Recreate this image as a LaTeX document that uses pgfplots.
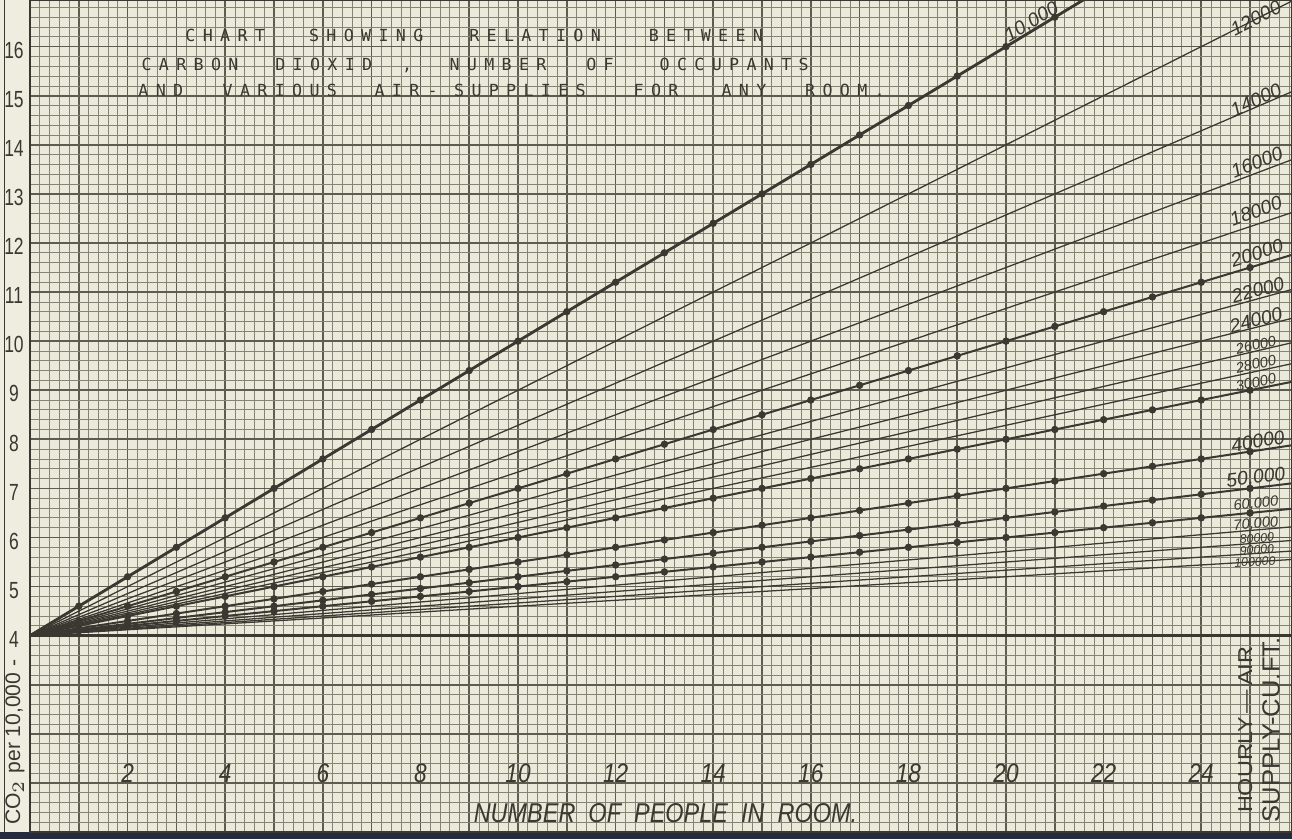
\documentclass[border=0pt]{standalone}
\usepackage{fontspec}
\setmainfont{Liberation Sans}
\newfontfamily\titlefont[LetterSpace=44]{DejaVu Sans Mono}
\usepackage{pgfplots}
\pgfplotsset{compat=1.18}
\definecolor{paper}{RGB}{234,233,218}
\definecolor{strip}{RGB}{238,237,224}
\definecolor{gridmaj}{RGB}{92,92,80}
\definecolor{gridmin}{RGB}{132,132,116}
\definecolor{ink}{RGB}{58,56,48}
\definecolor{navy}{RGB}{38,42,62}
\tikzset{
  thinl/.style={draw=ink, line width=0.38pt, mark=none},
  dotl/.style={draw=ink, line width=0.6pt, mark=*, mark size=0.95pt, mark options={fill=ink, draw=ink, line width=0.3pt}, mark phase=2, mark repeat=1},
  lab/.style={font=\fontsize{5.8pt}{6pt}\selectfont\itshape, inner sep=0pt, text=ink, anchor=center},
  labs/.style={font=\fontsize{4.4pt}{5pt}\selectfont\itshape, inner sep=0pt, text=ink, anchor=center},
  labt/.style={font=\fontsize{3.7pt}{4pt}\selectfont\itshape, inner sep=0pt, text=ink, anchor=center},
  ttl/.style={font=\titlefont\fontsize{5pt}{6pt}\selectfont, inner sep=0pt, text=ink, anchor=base},
  xtl/.style={font=\fontsize{8pt}{9pt}\selectfont\itshape, inner sep=0pt, text=ink, anchor=base},
  ytl/.style={font=\fontsize{7pt}{8pt}\selectfont, inner sep=0pt, text=ink, anchor=center, xshift=-4.8pt, yshift=-1.1pt},
}
\begin{document}
\begin{tikzpicture}
\useasboundingbox (0,0) rectangle (387.6pt,251.7pt);
\fill[navy] (0,0) rectangle (387.6pt,2.1pt);
\fill[strip] (0,2.1pt) rectangle (9pt,251.7pt);
\draw[ink, line width=0.35pt] (1.3pt,2.1pt) -- (1.3pt,251.7pt);
\begin{axis}[
  at={(9pt,2.1pt)}, anchor=south west,
  scale only axis, width=378.6pt, height=249.6pt,
  xmin=0, xmax=25.86, ymin=0, ymax=16.95,
  xtick={0,...,25}, ytick={0,...,16},
  minor xtick={0,0.2,...,25.85}, minor ytick={0,0.2,...,16.9},
  xticklabels={}, yticklabels={},
  major tick length=0pt, minor tick length=0pt,
  grid=both,
  major grid style={draw=gridmaj, line width=0.5pt},
  minor grid style={draw=gridmin, line width=0.22pt},
  axis line style={draw=ink, line width=0.7pt},
  axis background/.style={fill=paper},
  clip mode=individual,
]
% baseline CO2 = 4
\addplot[draw=ink, line width=0.8pt, mark=none] coordinates {(0,4) (26,4)};
% thin lines (hourly air supply, cu. ft.)
\addplot[thinl] coordinates {(0,4) (26,17.0)};       % 12000
\addplot[thinl] coordinates {(0,4) (26,15.142857)};  % 14000
\addplot[thinl] coordinates {(0,4) (26,13.75)};      % 16000
\addplot[thinl] coordinates {(0,4) (26,12.666667)};  % 18000
\addplot[thinl] coordinates {(0,4) (26,11.090909)};  % 22000
\addplot[thinl] coordinates {(0,4) (26,10.5)};       % 24000
\addplot[thinl] coordinates {(0,4) (26,10.0)};       % 26000
\addplot[thinl] coordinates {(0,4) (26,9.571429)};   % 28000
\addplot[thinl] coordinates {(0,4) (26,6.228571)};   % 70000
\addplot[thinl] coordinates {(0,4) (26,5.95)};       % 80000
\addplot[thinl] coordinates {(0,4) (26,5.733333)};   % 90000
\addplot[thinl] coordinates {(0,4) (26,5.56)};       % 100000
% dotted (marked) lines
\addplot[dotl, line width=0.85pt] coordinates {(0,4) (1,4.6) (2,5.2) (3,5.8) (4,6.4) (5,7.0) (6,7.6) (7,8.2) (8,8.8) (9,9.4) (10,10.0) (11,10.6) (12,11.2) (13,11.8) (14,12.4) (15,13.0) (16,13.6) (17,14.2) (18,14.8) (19,15.4) (20,16.0) (21,16.6) (22,17.2) (23,17.8)}; % 10000
\addplot[dotl] coordinates {(0,4) (1,4.3) (2,4.6) (3,4.9) (4,5.2) (5,5.5) (6,5.8) (7,6.1) (8,6.4) (9,6.7) (10,7.0) (11,7.3) (12,7.6) (13,7.9) (14,8.2) (15,8.5) (16,8.8) (17,9.1) (18,9.4) (19,9.7) (20,10.0) (21,10.3) (22,10.6) (23,10.9) (24,11.2) (25,11.5) (26,11.8)}; % 20000
\addplot[dotl] coordinates {(0,4) (1,4.2) (2,4.4) (3,4.6) (4,4.8) (5,5.0) (6,5.2) (7,5.4) (8,5.6) (9,5.8) (10,6.0) (11,6.2) (12,6.4) (13,6.6) (14,6.8) (15,7.0) (16,7.2) (17,7.4) (18,7.6) (19,7.8) (20,8.0) (21,8.2) (22,8.4) (23,8.6) (24,8.8) (25,9.0) (26,9.2)}; % 30000
\addplot[dotl] coordinates {(0,4) (1,4.15) (2,4.3) (3,4.45) (4,4.6) (5,4.75) (6,4.9) (7,5.05) (8,5.2) (9,5.35) (10,5.5) (11,5.65) (12,5.8) (13,5.95) (14,6.1) (15,6.25) (16,6.4) (17,6.55) (18,6.7) (19,6.85) (20,7.0) (21,7.15) (22,7.3) (23,7.45) (24,7.6) (25,7.75) (26,7.9)}; % 40000
\addplot[dotl] coordinates {(0,4) (1,4.12) (2,4.24) (3,4.36) (4,4.48) (5,4.6) (6,4.72) (7,4.84) (8,4.96) (9,5.08) (10,5.2) (11,5.32) (12,5.44) (13,5.56) (14,5.68) (15,5.8) (16,5.92) (17,6.04) (18,6.16) (19,6.28) (20,6.4) (21,6.52) (22,6.64) (23,6.76) (24,6.88) (25,7.0) (26,7.12)}; % 50000
\addplot[dotl] coordinates {(0,4) (1,4.1) (2,4.2) (3,4.3) (4,4.4) (5,4.5) (6,4.6) (7,4.7) (8,4.8) (9,4.9) (10,5.0) (11,5.1) (12,5.2) (13,5.3) (14,5.4) (15,5.5) (16,5.6) (17,5.7) (18,5.8) (19,5.9) (20,6.0) (21,6.1) (22,6.2) (23,6.3) (24,6.4) (25,6.5) (26,6.6)}; % 60000

% line labels
\node[lab, rotate=31] at (axis cs:20.53,16.5) {10,000};
\node[lab, rotate=27] at (axis cs:25.12,16.58) {12000};
\node[lab, rotate=25] at (axis cs:25.12,14.91) {14000};
\node[lab, rotate=22] at (axis cs:25.14,13.65) {16000};
\node[lab, rotate=20] at (axis cs:25.12,12.65) {18000};
\node[lab, rotate=18] at (axis cs:25.14,11.79) {20000};
\node[lab, rotate=16] at (axis cs:25.16,11.04) {22000};
\node[lab, rotate=15] at (axis cs:25.12,10.43) {24000};
\node[labs, rotate=13] at (axis cs:25.12,9.92) {26000};
\node[labs, rotate=12] at (axis cs:25.12,9.53) {28000};
\node[labs, rotate=12] at (axis cs:25.12,9.16) {30000};
\node[lab, rotate=10] at (axis cs:25.16,7.96) {40000};
\node[lab, rotate=7] at (axis cs:25.12,7.21) {50,000};
\node[labs, rotate=6] at (axis cs:25.12,6.68) {60,000};
\node[labs, rotate=5] at (axis cs:25.12,6.27) {70,000};
\node[labt, rotate=4] at (axis cs:25.14,5.98) {80000};
\node[labt, rotate=4] at (axis cs:25.14,5.75) {90000};
\node[labt, rotate=3] at (axis cs:25.10,5.50) {100000};

% title
\node[ttl] at (axis cs:4.0,16.11) {CHART};
\node[ttl] at (axis cs:6.89,16.11) {SHOWING};
\node[ttl] at (axis cs:10.35,16.11) {RELATION};
\node[ttl] at (axis cs:13.85,16.11) {BETWEEN};
\node[ttl] at (axis cs:3.28,15.52) {CARBON};
\node[ttl] at (axis cs:6.02,15.52) {DIOXID};
\node[ttl] at (axis cs:7.73,15.52) {,};
\node[ttl] at (axis cs:9.59,15.52) {NUMBER};
\node[ttl] at (axis cs:11.68,15.52) {OF};
\node[ttl] at (axis cs:14.43,15.52) {OCCUPANTS};
\node[ttl] at (axis cs:2.68,14.98) {AND};
\node[ttl] at (axis cs:5.12,14.98) {VARIOUS};
\node[ttl] at (axis cs:7.52,14.98) {AIR};
\node[ttl] at (axis cs:8.25,14.98) {-};
\node[ttl] at (axis cs:10.04,14.98) {SUPPLIES};
\node[ttl] at (axis cs:12.83,14.98) {FOR};
\node[ttl] at (axis cs:14.63,14.98) {ANY};
\node[ttl] at (axis cs:16.70,14.98) {ROOM.};

% x tick labels (inside)
\pgfplotsinvokeforeach{2,4,...,24}{
  \node[xtl] at (axis cs:#1,1.0) {\scalebox{0.85}[1]{#1}};
}
\node[inner sep=0pt, anchor=base west, text=ink] at (axis cs:9.08,0.2)
  {\resizebox{115pt}{5.7pt}{\itshape NUMBER\ \ OF\ \ PEOPLE\ \ IN\ \ ROOM.}};

% y tick labels (left strip)
\pgfplotsinvokeforeach{4,...,16}{
  \node[ytl] at (axis cs:0,#1) {\scalebox{0.75}[1]{#1}};
}
\node[inner sep=0pt, rotate=90, text=ink, anchor=center] at (axis cs:-0.31,1.83)
  {\resizebox{49.5pt}{!}{\fontsize{6pt}{7pt}\selectfont CO$_2$ per 10,000 -}};

% right vertical label
\node[inner sep=0pt, rotate=90, text=ink, anchor=center] at (axis cs:24.9,2.08)
  {\resizebox{49.8pt}{4.2pt}{HOURLY\,---\,AIR}};
\node[inner sep=0pt, rotate=90, text=ink, anchor=center] at (axis cs:25.43,2.08)
  {\resizebox{55.5pt}{5.2pt}{SUPPLY-CU.FT.}};
\end{axis}
\end{tikzpicture}
\end{document}
